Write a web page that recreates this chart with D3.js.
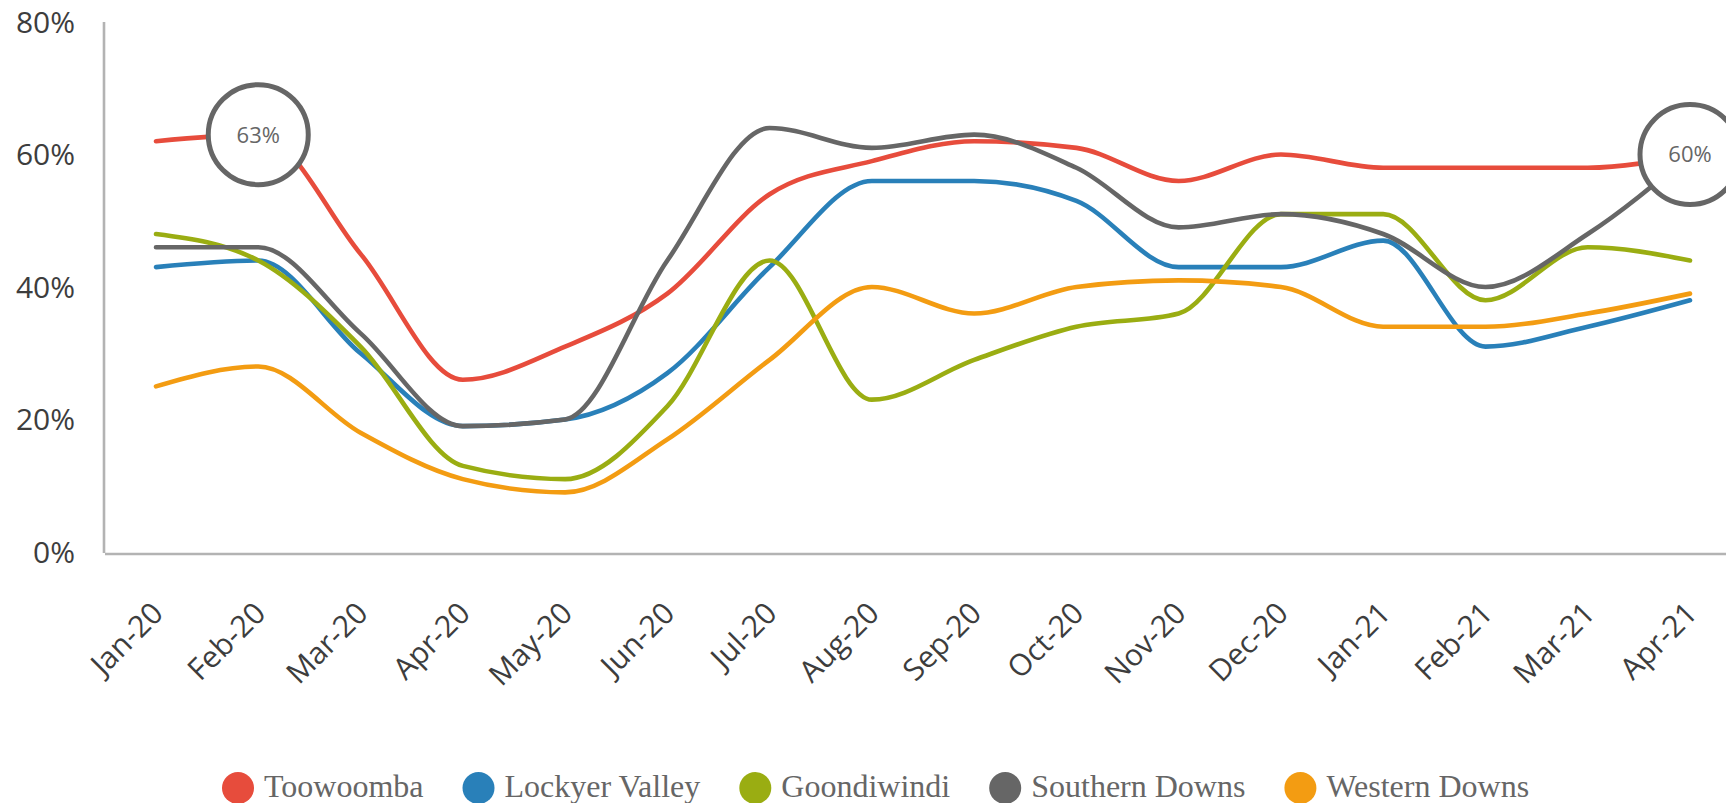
<!DOCTYPE html>
<html>
<head>
<meta charset="utf-8">
<script src="https://cdn.jsdelivr.net/npm/d3@7"></script>
<style>
  body { margin: 0; background: #fff; }
  svg { display: block; }
</style>
</head>
<body>
<div id="chart"></div>
<script>
const svgWidth = 1726;
const svgHeight = 803;

// data
const months = ["Jan-20", "Feb-20", "Mar-20", "Apr-20", "May-20", "Jun-20", "Jul-20", "Aug-20",
  "Sep-20", "Oct-20", "Nov-20", "Dec-20", "Jan-21", "Feb-21", "Mar-21", "Apr-21"];
const seriesNames = ["Toowoomba", "Lockyer Valley", "Goondiwindi", "Southern Downs", "Western Downs"];
const seriesColors = ["#e74c3c", "#2980b9", "#9aad12", "#666666", "#f39c12"];
const toowoomba     = [62, 63, 45, 26, 31, 39, 54, 59, 62, 61, 56, 60, 58, 58, 58, 60];
const lockyerValley = [43, 44, 30, 19, 20, 27, 43, 56, 56, 53, 43, 43, 47, 31, 34, 38];
const goondiwindi   = [48, 44, 31, 13, 11, 22, 44, 23, 29, 34, 36, 51, 51, 38, 46, 44];
const southernDowns = [46, 46, 33, 19, 20, 44, 64, 61, 63, 58, 49, 51, 48, 40, 48, 60];
const westernDowns  = [25, 28, 18, 11, 9, 17, 29, 40, 36, 40, 41, 40, 34, 34, 36, 39];
const yTicks = [0, 20, 40, 60, 80];
// highlighted points: [month, value]
const callouts = [["Feb-20", 63], ["Apr-21", 60]];

const allSeries = [toowoomba, lockyerValley, goondiwindi, southernDowns, westernDowns];

var svg = d3.select("#chart")
  .append("svg")
  .attr("width", svgWidth)
  .attr("height", svgHeight);

var xScale = d3.scalePoint()
  .domain(months)
  .range([156, 1690]);

var yScale = d3.scaleLinear()
  .domain([0, 80])
  .range([552, 22]);

// axes lines
svg.append("line")
  .attr("x1", 104).attr("x2", 104)
  .attr("y1", yScale(80)).attr("y2", yScale(0) + 1)
  .attr("stroke", "#b3b3b3")
  .attr("stroke-width", 2.6);
svg.append("line")
  .attr("x1", 105).attr("x2", svgWidth)
  .attr("y1", yScale(0) + 2).attr("y2", yScale(0) + 2)
  .attr("stroke", "#b3b3b3")
  .attr("stroke-width", 2.6);

// y labels
svg.append("g")
  .selectAll("text")
  .data(yTicks)
  .enter()
  .append("text")
  .attr("x", 75)
  .attr("y", (d) => yScale(d))
  .attr("dy", "0.36em")
  .attr("text-anchor", "end")
  .style("font-family", "'Open Sans', sans-serif")
  .style("font-size", "30px")
  .style("fill", "#3d3d3d")
  .text((d) => d + "%");

// x labels, rotated
svg.append("g")
  .selectAll("text")
  .data(months)
  .enter()
  .append("text")
  .attr("transform", (d) => "translate(" + (xScale(d) + 9) + ",615) rotate(-45)")
  .attr("text-anchor", "end")
  .style("font-family", "'Open Sans', sans-serif")
  .style("font-size", "30px")
  .style("fill", "#3d3d3d")
  .text((d) => d);

// lines
var line = d3.line()
  .x((d, i) => xScale(months[i]))
  .y((d) => yScale(d))
  .curve(d3.curveMonotoneX);

svg.append("g")
  .selectAll("path")
  .data(allSeries)
  .enter()
  .append("path")
  .attr("d", (d) => line(d))
  .attr("fill", "none")
  .attr("stroke", (d, i) => seriesColors[i])
  .attr("stroke-width", 4.6)
  .attr("stroke-linecap", "round")
  .attr("stroke-linejoin", "round");

// callout circles
var callout = svg.append("g")
  .selectAll("g")
  .data(callouts)
  .enter()
  .append("g")
  .attr("transform", (d) => "translate(" + xScale(d[0]) + "," + yScale(d[1]) + ")");
callout.append("circle")
  .attr("r", 50)
  .attr("fill", "#fff")
  .attr("stroke", "#666")
  .attr("stroke-width", 5);
callout.append("text")
  .attr("text-anchor", "middle")
  .attr("dy", "0.36em")
  .style("font-family", "'Open Sans', sans-serif")
  .style("font-size", "22px")
  .style("fill", "#666")
  .text((d) => d[1] + "%");

// legend
var legend = svg.append("g");
var lx = 222;
seriesNames.forEach(function(name, i) {
  legend.append("circle")
    .attr("cx", lx + 16)
    .attr("cy", 788)
    .attr("r", 16)
    .attr("fill", seriesColors[i]);
  var t = legend.append("text")
    .attr("x", lx + 42)
    .attr("y", 797)
    .style("font-family", "'Liberation Serif', serif")
    .style("font-size", "32px")
    .style("fill", "#666")
    .text(name);
  lx += 42 + t.node().getComputedTextLength() + 39;
});
</script>
</body>
</html>
